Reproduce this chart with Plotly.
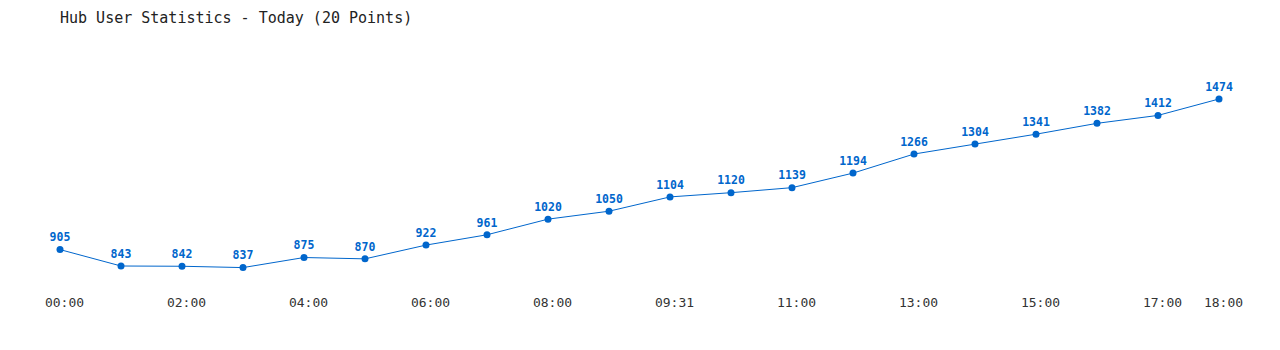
import plotly.graph_objects as go

times = ["00:00", "01:00", "02:00", "03:00", "04:00", "05:00", "06:00", "07:00",
         "08:00", "08:45", "09:31", "10:15", "11:00", "12:00", "13:00", "14:00",
         "15:00", "16:00", "17:00", "18:00"]
users = [905, 843, 842, 837, 875, 870, 922, 961, 1020, 1050,
         1104, 1120, 1139, 1194, 1266, 1304, 1341, 1382, 1412, 1474]
tick_idx = [0, 2, 4, 6, 8, 10, 12, 14, 16, 18, 19]
title_text = "Hub User Statistics - Today (20 Points)"

x = list(range(len(users)))
color = "#0066cc"
tick_shift = 4.5 / 61

fig = go.Figure(go.Scatter(
    x=x, y=users, mode="lines+markers+text",
    line=dict(color=color, width=1),
    marker=dict(color=color, size=7),
    text=[str(v) for v in users], textposition="top center",
    textfont=dict(family="DejaVu Sans Mono", size=11.5, color=color, weight="bold"),
    hoverinfo="skip",
))

fig.update_layout(
    width=1280, height=350,
    margin=dict(l=30, r=30, t=40, b=65),
    paper_bgcolor="white", plot_bgcolor="white",
    showlegend=False,
    title=dict(text=title_text, x=60/1280, xanchor="left", y=1-18/350, yanchor="middle",
               font=dict(family="DejaVu Sans Mono", size=15, color="#222")),
    xaxis=dict(range=[-30/61, 19 + 31/61], tickmode="array",
               tickvals=[i + tick_shift for i in tick_idx],
               ticktext=[times[i] for i in tick_idx], showgrid=False, zeroline=False,
               showline=False, ticks="", ticklabelstandoff=8,
               tickfont=dict(family="DejaVu Sans Mono", size=13, color="#333")),
    yaxis=dict(range=[771.2, 1696.9], visible=False),
)

fig.write_html("out.html")
